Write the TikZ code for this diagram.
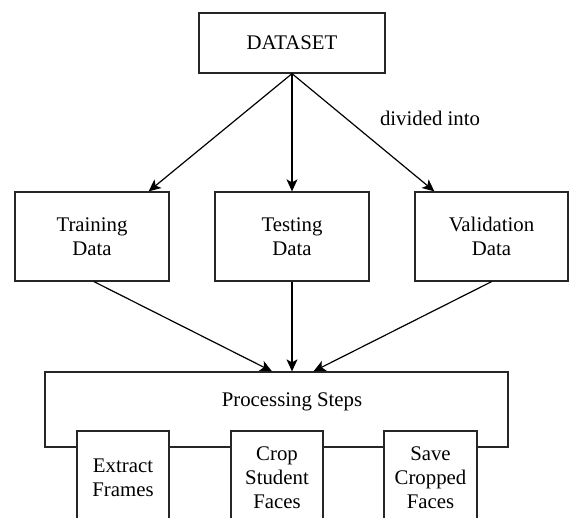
\documentclass[tikz,border=0pt]{standalone}
\usepackage{fontspec}
\setmainfont{Liberation Serif}
\usetikzlibrary{arrows.meta}
\begin{document}
\begin{tikzpicture}[x=1pt,y=-1pt,
  box/.style={draw=black!85, line width=1.3pt, rectangle, fill=white, inner sep=0pt, align=center},
  txt/.style={inner sep=0pt, align=center, font=\fontsize{20.8pt}{24pt}\selectfont},
  conn/.style={line width=1.2pt, -{Stealth[length=12pt,width=11pt,inset=3pt]}}]
\path[use as bounding box, clip] (0,0) rectangle (569,517);
\fill[white] (0,0) rectangle (569,517);
% top
\node[box, txt, minimum width=186pt, minimum height=60pt] (dataset) at (292,43) {DATASET};
\node[box, txt, minimum width=154pt, minimum height=89pt] (training) at (92,236.5) {Training\\Data};
\node[box, txt, minimum width=154pt, minimum height=89pt] (testing) at (292,236.5) {Testing\\Data};
\node[box, txt, minimum width=153pt, minimum height=89pt] (validation) at (491.5,236.5) {Validation\\Data};
\node[txt] (divided) at (430,118) {divided into};
% processing
\node[box, minimum width=463pt, minimum height=75pt] (proc) at (276.5,409.5) {};
\node[txt] (proctext) at (292,402) {Processing Steps};
\node[box, txt, minimum width=92pt, minimum height=94pt] (extract) at (123,478) {Extract\\Frames};
\node[box, txt, minimum width=92pt, minimum height=94pt] (crop) at (277,478) {Crop\\Student\\Faces};
\node[box, txt, minimum width=93pt, minimum height=94pt] (save) at (430.5,478) {Save\\Cropped\\Faces};
% connectors
\draw[conn] (dataset.south) -- ([xshift=-21pt]training.north east);
\draw[conn] (dataset.south) -- (testing.north);
\draw[conn] (dataset.south) -- ([xshift=20pt]validation.north west);
\draw[conn] ([xshift=2pt]training.south) -- ([xshift=-4.5pt]proc.north);
\draw[conn] (testing.south) -- (testing.south |- proc.north);
\draw[conn] (validation.south) -- ([xshift=37pt]proc.north);
\end{tikzpicture}
\end{document}
